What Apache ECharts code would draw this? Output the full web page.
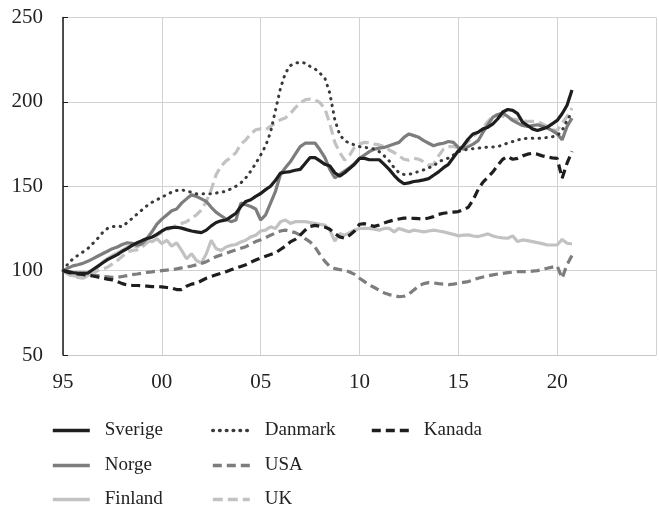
<!DOCTYPE html>
<html>
<head>
<meta charset="utf-8">
<script src="https://cdn.jsdelivr.net/npm/echarts@6/dist/echarts.min.js"></script>
<style>
html,body{margin:0;padding:0;background:#fff;}
#chart{width:659px;height:507px;}
</style>
</head>
<body>
<div id="chart"></div>
<script>
// Quarterly index values, 1995Q1 .. 2020Q4 (1995 = 100)
const startYear = 1995;
const seriesNames = ['Sverige', 'Norge', 'Finland', 'Danmark', 'USA', 'UK', 'Kanada'];
const xTickLabels = ['95', '00', '05', '10', '15', '20'];

const sverige = [
  100, 99.5, 98.8, 98.5,
  98.5, 98.5, 100.5, 102.5,
  104.5, 106.5, 108, 109.5,
  111.5, 113, 115, 116.5,
  117.8, 119, 119.8, 121.5,
  123.5, 125, 125.5, 125.7,
  125.2, 124.3, 123.5, 123,
  122.5, 124, 126.5, 128.5,
  129.5, 130, 132, 134,
  138, 141, 142, 144,
  145.7, 148, 150, 153.5,
  157.8, 158.3, 158.7, 159.5,
  160, 163.5, 167, 167,
  165, 163, 162, 158,
  156, 158, 160.5, 163,
  166.5, 166.5, 165.7, 165.7,
  165.7, 163, 160, 156.5,
  153.5, 151.5, 152, 152.8,
  153.2, 153.8, 154.5, 156.5,
  158.5, 161, 163, 167,
  171, 174, 178, 181,
  182, 184, 185, 187,
  190, 194, 195.5, 195,
  193, 188, 186, 184,
  183, 184, 185, 187,
  189, 193, 198, 207
];

const norge = [
  100, 101.5, 102.8, 103.5,
  104.3, 105.5, 107, 108.5,
  110, 111.5, 113, 114,
  115.5, 116.5, 116.2, 115,
  116, 119, 123, 127.5,
  130.5, 133, 135.5, 136.5,
  140, 142.5, 145, 144,
  142.5, 141, 137.5, 134.5,
  132.5, 130.5, 129, 130,
  140, 139, 138, 136.5,
  130, 133, 140, 147,
  157, 161, 164.5, 169,
  173.5, 175.5, 175.6, 175.6,
  171.6, 167, 160, 155,
  157, 159, 161, 163.5,
  166.5, 168.5, 170.5, 172,
  172.6, 173, 174, 175,
  176, 179, 181, 180,
  179, 177, 175.5, 174,
  175, 175.5, 176.5, 176,
  173, 172, 173.5, 175,
  177, 182, 186.5, 191,
  192.5, 193.4, 191.3, 189,
  187.4, 186, 185.4, 186,
  186.4, 185.5, 184.5, 183,
  181, 177.5, 185.4, 190.4
];

const finland = [
  100, 98, 97, 96.5,
  96, 97, 99, 102,
  105, 107, 109, 110.5,
  112, 114, 115, 114,
  116, 118.5, 117, 119,
  116, 118, 114.5, 116.5,
  112, 107, 110, 106,
  104.5, 110, 118, 113,
  112, 114, 115, 115.5,
  117, 118, 120, 121,
  123.5, 124, 126, 125,
  129, 130, 128, 129,
  129, 129, 128.5, 128,
  127.5, 127, 124, 117.5,
  122, 121, 122.5, 124,
  125, 125, 125, 124.5,
  124, 125, 125, 123,
  125, 124, 123, 124,
  123.5, 123, 123.5, 124,
  123.5, 123, 122.2, 121.5,
  120.6, 121, 121.2, 120.5,
  120.2, 121, 121.8, 120.5,
  119.8, 119.4, 119.2, 120.6,
  117.2, 118.2, 117.8, 117.2,
  116.6, 116, 115.2, 115.2,
  115.2, 118.5, 116.2, 115.8
];

const danmark = [
  100, 104, 107, 109,
  111, 113, 116, 119,
  122.5, 125, 126, 126.5,
  126, 128.5, 131, 133.5,
  136, 138.5, 140.5, 142,
  143.5, 145, 146.5, 147.5,
  148, 147, 146.5, 145.5,
  145.5, 145.5, 145.5, 146,
  146.5, 147, 148.5, 150,
  152, 155, 159, 163.5,
  168.5, 174, 182, 195,
  208, 217, 221.5, 223,
  223.4, 223, 221, 219.5,
  217, 214, 205, 189.5,
  180.5, 177, 175.5, 174.5,
  173.5, 173, 172.7, 172,
  170.5, 168, 165, 161,
  158, 157, 157, 157.8,
  158.8, 159.7, 161, 162,
  164.5, 165.7, 166.7, 168.5,
  170.5, 171.3, 172, 172.3,
  172.6, 172.9, 173.2, 173.3,
  173.5, 174.5, 175.6, 176.5,
  177.5, 178, 178.5, 178.4,
  178.3, 178.6, 178.9, 179.3,
  180, 183, 189, 194
];

const usa = [
  100, 99, 98.5, 98,
  97.8, 97.5, 97.2, 97,
  96.6, 96.3, 96, 96,
  96.5, 97, 97.6, 98,
  98.5, 99, 99.3, 99.7,
  100, 100.3, 100.6, 101,
  101.6, 102.2, 102.7, 103.4,
  104.2, 105.3, 106.8, 108.3,
  109.3, 110.3, 111.3, 112.3,
  113.3, 114.2, 115.7, 117.2,
  118.3, 119.5, 121, 122.3,
  123.5, 124, 123.3, 122.5,
  121, 119, 117, 114,
  109.5, 105.5, 102.5, 101.2,
  100.6, 100.2, 99.2, 97.8,
  95.5, 93.5, 91.5, 90,
  88.3, 86.8, 85.8, 85.2,
  84.5, 84.8, 86.2, 88.5,
  91, 92.3, 92.9, 92.7,
  92.3, 92, 91.7, 92,
  92.5, 93, 93.5, 94.5,
  95.5, 96.2, 96.9, 97.5,
  98, 98.4, 98.8, 99.1,
  99.4, 99.4, 99.4, 99.7,
  100, 100.7, 101.4, 102.1,
  102.8, 95.5, 103.5, 109
];

const uk = [
  100, 98, 96.5, 96,
  95.5, 96.5, 98, 100,
  101, 102, 104, 106,
  108.5, 111, 112, 112.3,
  114, 116.5, 119, 121,
  122.5, 124, 125.5, 127,
  128, 129, 131, 133,
  136, 141, 148, 157,
  162, 165, 167, 170,
  175, 177.5, 181, 183.5,
  184, 183.5, 185.5, 187.5,
  189.4, 190.5, 193, 196.5,
  199.5, 201.2, 201.7, 201.2,
  199.5, 196, 187, 176,
  170, 165.5, 168.5, 173,
  175, 176, 175.8, 175,
  174.5, 173.5, 171.5, 170,
  168, 166, 165.5, 166.5,
  166, 164.5, 162.5, 163,
  168, 172, 173.5, 173.5,
  172.6, 173.5, 176.5, 179.5,
  182, 184.5, 188.5, 191.5,
  192.3, 191.5, 190.4, 189.8,
  189.4, 189, 188.4, 188.4,
  188.4, 187, 185.4, 183.5,
  183, 187.4, 191.3, 196.3
];

const kanada = [
  100, 99, 98.5, 98,
  97.7, 97.3, 96.8, 96.2,
  95.6, 95, 94.5, 93.5,
  92.3, 91.5, 91.3, 91.2,
  91, 90.8, 90.5, 90.5,
  90.4, 90, 89.6, 88.8,
  88.8, 90.8, 92, 92.5,
  94, 95.5, 96.5, 97.5,
  98.5, 99.4, 100.5, 101.5,
  102.5, 103.5, 105, 106.3,
  107.5, 108.5, 109.5, 110.5,
  112.5, 114.5, 117, 118.5,
  121, 124, 126.2, 126.8,
  126.3, 125.8, 124.5, 122,
  120, 119.2, 121, 123.5,
  127.5, 127.8, 127, 126.2,
  127, 128.2, 129.2, 130,
  130.6, 131.1, 131.1, 131,
  130.8, 130.5, 131.2, 132,
  133.3, 134, 134.4, 134.7,
  135, 136.2, 137.5, 142,
  148, 152.5, 155.5, 158.5,
  162.5, 166, 167.6, 166,
  166.5, 168, 169, 169.6,
  169, 168, 167.3, 166.8,
  166.5, 154.8, 163.7, 170.6
];

const values = [sverige, norge, finland, danmark, usa, uk, kanada];

const styles = {
  Sverige: { color: '#1e1e1e', width: 3.2, type: 'solid' },
  Norge:   { color: '#7d7d7d', width: 3.2, type: 'solid' },
  Finland: { color: '#c2c2c2', width: 3.2, type: 'solid' },
  Danmark: { color: '#3a3a3a', width: 3, type: [0.5, 6.3], cap: 'round' },
  USA:     { color: '#7d7d7d', width: 3.2, type: [9, 5] },
  UK:      { color: '#c2c2c2', width: 3.2, type: [10, 5] },
  Kanada:  { color: '#1e1e1e', width: 3.2, type: [9, 5] }
};

function toPoints(arr) {
  return arr.map((v, i) => [startYear + i / 4, v]);
}

const drawOrder = ['Finland', 'UK', 'USA', 'Norge', 'Danmark', 'Kanada', 'Sverige'];
const series = drawOrder.map(name => {
  const s = styles[name];
  const arr = values[seriesNames.indexOf(name)];
  return {
    name: name,
    type: 'line',
    data: toPoints(arr),
    showSymbol: false,
    symbol: 'none',
    smooth: false,
    color: s.color,
    lineStyle: { color: s.color, width: s.width, type: s.type, cap: s.cap || 'butt' },
    emphasis: { disabled: true }
  };
});

const FONT = '"Liberation Serif", "DejaVu Serif", serif';
// legend layout: 3 columns x 3 rows (column-major)
const legendCols = [51, 211, 370];
const legendRowTops = [421, 456, 490];
const legendGrid = [
  ['Sverige', 'Norge', 'Finland'],
  ['Danmark', 'USA', 'UK'],
  ['Kanada']
];
const legends = [];
legendGrid.forEach((col, ci) => {
  col.forEach((name, ri) => {
    legends.push({
      orient: 'horizontal',
      left: legendCols[ci],
      top: legendRowTops[ri],
      padding: 0,
      itemWidth: 37,
      itemHeight: 14,
      selectedMode: false,
      itemStyle: { color: 'rgba(0,0,0,0)', borderWidth: 0, opacity: 0 },
      lineStyle: { width: 3.6 },
      textStyle: { fontFamily: FONT, fontSize: 19, color: '#222', lineHeight: 18, padding: [0, 0, 0, 10] },
      data: [name]
    });
  });
});

const option = {
  animation: false,
  backgroundColor: '#ffffff',
  grid: { left: 63, right: -13, top: 17.5, bottom: 152, containLabel: false },
  xAxis: {
    type: 'value',
    min: 1995,
    max: 2025,
    interval: 5,
    axisLine: { show: true, lineStyle: { color: '#c8c8c8', width: 1 } },
    axisTick: { show: false },
    splitLine: { show: true, lineStyle: { color: '#d2d2d2', width: 1 } },
    axisLabel: {
      margin: 17,
      fontFamily: FONT,
      fontSize: 21,
      color: '#222',
      formatter: function (v) {
        const idx = Math.round((v - startYear) / 5);
        return (Math.abs(v - (startYear + idx * 5)) < 1e-6 && idx < xTickLabels.length) ? xTickLabels[idx] : '';
      }
    }
  },
  yAxis: {
    type: 'value',
    min: 50,
    max: 250,
    interval: 50,
    axisLine: { show: true, lineStyle: { color: '#1a1a1a', width: 1.5 } },
    axisTick: { show: true, inside: true, length: 5, lineStyle: { color: '#1a1a1a', width: 1 } },
    splitLine: { show: true, lineStyle: { color: '#d2d2d2', width: 1 } },
    axisLabel: { margin: 20, fontFamily: FONT, fontSize: 21, color: '#222' }
  },
  legend: legends,
  series: series
};

const chart = echarts.init(document.getElementById('chart'), null, { renderer: 'canvas' });
chart.setOption(option);
</script>
</body>
</html>
